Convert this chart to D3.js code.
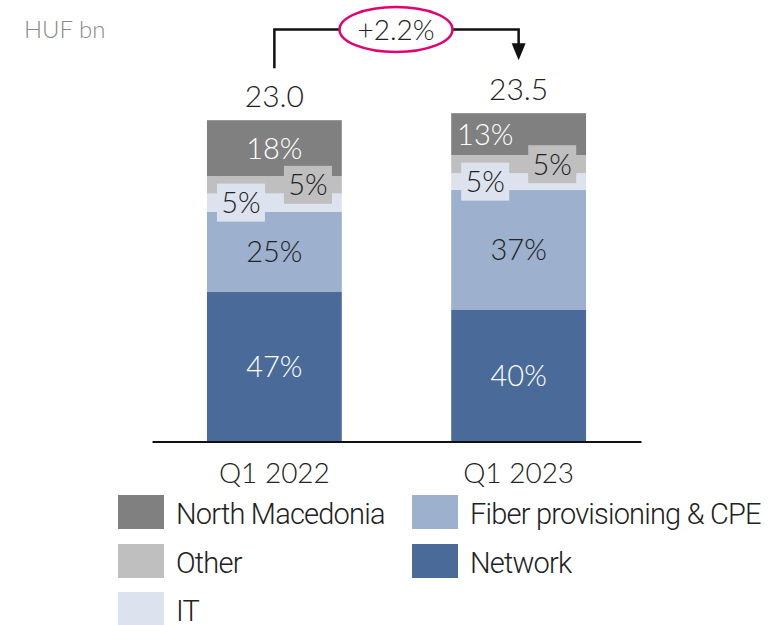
<!DOCTYPE html>
<html>
<head>
<meta charset="utf-8">
<script src="https://cdn.jsdelivr.net/npm/d3@7"></script>
<style>
  html, body { margin: 0; padding: 0; background: #fff; }
  svg text { font-family: Lato, "Open Sans", sans-serif; font-weight: 300; }
  svg text.leg { font-family: Roboto, sans-serif; font-weight: 300; letter-spacing: -0.8px; }
</style>
</head>
<body>
<svg id="chart" width="776" height="625"></svg>
<script>
// ---- data ----
const categories = ["Q1 2022", "Q1 2023"];
const totals = [23.0, 23.5];
const totalLabels = ["23.0", "23.5"];
const seriesNames = ["Network", "Fiber provisioning & CPE", "IT", "Other", "North Macedonia"];
const network = [10.7, 9.45];
const fiber = [5.75, 8.55];
const it = [1.3, 1.2];
const other = [1.25, 1.3];
const northMacedonia = [4.0, 3.0];
const shareLabels = {
  "Network": ["47%", "40%"],
  "Fiber provisioning & CPE": ["25%", "37%"],
  "IT": ["5%", "5%"],
  "Other": ["5%", "5%"],
  "North Macedonia": ["18%", "13%"]
};
const growthLabel = "+2.2%";
const unitLabel = "HUF bn";
const legendOrder = ["North Macedonia", "Other", "IT", "Fiber provisioning & CPE", "Network"];

// ---- styles / layout ----
const colors = {
  "Network": "#4A6B99",
  "Fiber provisioning & CPE": "#9DB0CD",
  "IT": "#DDE3EE",
  "Other": "#BFBFBF",
  "North Macedonia": "#808080"
};
const labelColors = {
  "Network": "#ffffff",
  "Fiber provisioning & CPE": "#222222",
  "IT": "#222222",
  "Other": "#222222",
  "North Macedonia": "#ffffff"
};
// horizontal placement of the share label within each bar
const labelPlace = {
  "Network": ["mid", "mid"],
  "Fiber provisioning & CPE": ["mid", "mid"],
  "IT": ["left", "left"],
  "Other": ["right", "right"],
  "North Macedonia": ["mid", "left"]
};
const boxed = { "IT": true, "Other": true };

const svg = d3.select("#chart");
const seriesValues = [network, fiber, it, other, northMacedonia];

const table = categories.map((c, i) => {
  const row = { category: c };
  seriesNames.forEach((s, k) => row[s] = seriesValues[k][i]);
  return row;
});
const stacked = d3.stack().keys(seriesNames)(table);

const x = d3.scaleBand().domain(categories).range([152, 641]).paddingInner(0.448).paddingOuter(0.225);
const y = d3.scaleLinear().domain([0, 25]).range([441.5, 441.5 - 25 * 13.97]);

// bars
const layers = svg.append("g").selectAll("g").data(stacked).join("g")
  .attr("fill", d => colors[d.key]);
layers.selectAll("rect").data(d => d).join("rect")
  .attr("x", d => x(d.data.category))
  .attr("width", x.bandwidth())
  .attr("y", d => y(d[1]))
  .attr("height", d => y(d[0]) - y(d[1]));

// axis baseline
const axis = svg.append("g").attr("transform", `translate(0,${y(0)})`)
  .call(d3.axisBottom(x).tickSize(0).tickPadding(22).tickSizeOuter(0));
axis.select(".domain").attr("stroke", "#111").attr("stroke-width", 2.2);
axis.selectAll(".tick text").attr("font-size", 28).attr("fill", "#222")
  .attr("font-family", "Lato, sans-serif").attr("font-weight", 300);

// labels
const bw = x.bandwidth();
stacked.forEach(layer => {
  const key = layer.key;
  layer.forEach((d, i) => {
    const cat = d.data.category;
    const place = labelPlace[key][i];
    let cx = x(cat) + bw / 2;
    if (place === "left") cx = x(cat) + 34;
    if (place === "right") cx = x(cat) + 101;
    const cy = (y(d[0]) + y(d[1])) / 2;
    if (boxed[key]) {
      svg.append("rect")
        .attr("x", cx - 24).attr("y", cy - 19)
        .attr("width", 48).attr("height", 38)
        .attr("fill", colors[key]);
    }
    svg.append("text")
      .attr("x", cx).attr("y", cy)
      .attr("dy", "0.36em")
      .attr("text-anchor", "middle")
      .attr("font-size", 29)
      .attr("fill", labelColors[key])
      .text(shareLabels[key][i]);
  });
});

// totals
categories.forEach((c, i) => {
  svg.append("text")
    .attr("x", x(c) + bw / 2).attr("y", y(totals[i]) - 13)
    .attr("text-anchor", "middle")
    .attr("font-size", 30).attr("fill", "#222")
    .text(totalLabels[i]);
});

// growth bracket
const x1 = x(categories[0]) + bw / 2, x2 = x(categories[1]) + bw / 2;
const topY = 29.5;
const ecx = (x1 + x2) / 2 - 0.5, erx = 56.5, ery = 22.5;
const br = svg.append("g").attr("fill", "none").attr("stroke", "#111").attr("stroke-width", 2.5);
br.append("path").attr("d", `M${x1},${y(totals[0]) - 52}V${topY}H${ecx - erx}`);
br.append("path").attr("d", `M${ecx + erx},${topY}H${x2}V${y(totals[1]) - 68}`);
svg.append("path")
  .attr("d", `M${x2 - 7},${y(totals[1]) - 70}L${x2 + 7},${y(totals[1]) - 70}L${x2},${y(totals[1]) - 53}Z`)
  .attr("fill", "#111");
svg.append("ellipse").attr("cx", ecx).attr("cy", topY).attr("rx", erx).attr("ry", ery)
  .attr("fill", "#fff").attr("stroke", "#E20074").attr("stroke-width", 2.5);
svg.append("text").attr("x", ecx).attr("y", topY).attr("dy", "0.36em")
  .attr("text-anchor", "middle").attr("font-size", 28).attr("fill", "#222")
  .text(growthLabel);

// unit label
svg.append("text").attr("x", 24).attr("y", 38)
  .attr("font-size", 24).attr("font-weight", 400).attr("fill", "#8a8a8a").text(unitLabel);

// legend
const legendPos = legendOrder.map((s, i) => i < 3 ? { col: 0, row: i } : { col: 1, row: i - 3 });
const colX = [118, 412];
const rowY = [495, 544, 592];
const lg = svg.append("g").selectAll("g").data(legendOrder).join("g")
  .attr("transform", (d, i) => `translate(${colX[legendPos[i].col]},${rowY[legendPos[i].row]})`);
lg.append("rect").attr("width", 46).attr("height", 34).attr("fill", d => colors[d]);
lg.append("text").attr("class", "leg").attr("x", 58).attr("y", 29)
  .attr("font-size", 29).attr("fill", "#222").text(d => d);
</script>
</body>
</html>
